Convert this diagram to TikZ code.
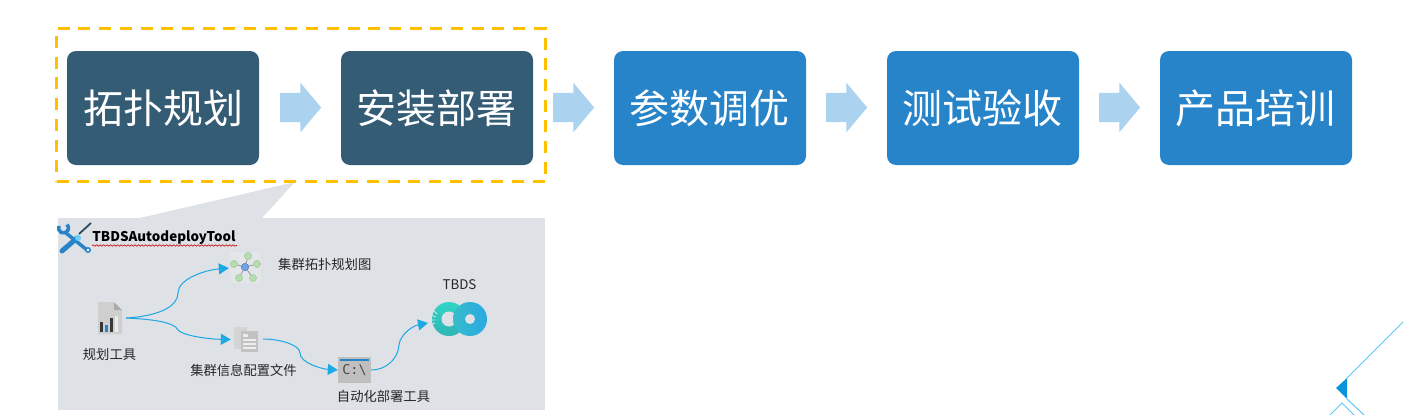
\documentclass[tikz,border=0pt]{standalone}
\usepackage{fontspec}
\setmainfont{Noto Sans CJK SC}
\newfontfamily\consolefont{DejaVu Sans Mono}
\usetikzlibrary{shapes}
\usetikzlibrary{arrows.meta}
\usetikzlibrary{decorations.pathmorphing}

\definecolor{darkstep}{HTML}{355C75}
\definecolor{bluestep}{HTML}{2884C9}
\definecolor{stepflow}{HTML}{ABD3F0}
\definecolor{dashline}{HTML}{FFC000}
\definecolor{panelgray}{HTML}{DEE1E5}
\definecolor{flowline}{HTML}{1CA8E3}
\definecolor{cornerline}{HTML}{5BC8F5}

\begin{document}
\begin{tikzpicture}[x=1pt,y=-1pt]
    \tikzstyle{stage}        = [rectangle,rounded corners=9pt,minimum width=192pt,minimum height=114pt,inner sep=0pt,text=white,font=\fontsize{40}{44}\selectfont]
    \tikzstyle{dark stage}   = [stage,fill=darkstep]
    \tikzstyle{blue stage}   = [stage,fill=bluestep]
    \tikzstyle{stage arrow}  = [single arrow,fill=stepflow,inner xsep=0pt,inner ysep=14.5pt,minimum height=41pt,single arrow head extend=10pt,single arrow head indent=0pt,single arrow tip angle=100]
    \tikzstyle{label}        = [inner sep=0pt,text=black!85,font=\fontsize{13.3}{15}\selectfont]
    \tikzstyle{icon}         = [rectangle,inner sep=0pt]
    \tikzstyle{flow}         = [draw=flowline,line width=1pt,-{Triangle[length=10pt,width=11pt]}]
    \tikzstyle{sat}          = [circle,inner sep=0pt,minimum size=7pt,fill={rgb,255:red,181;green,221;blue,176},draw={rgb,255:red,150;green,200;blue,145},line width=.5pt]
    \tikzstyle{hub}          = [circle,inner sep=0pt,minimum size=7.5pt,fill={rgb,255:red,111;green,163;blue,232},draw={rgb,255:red,80;green,120;blue,170},line width=.5pt]
    \tikzstyle{spoke}        = [draw=black!40,line width=.8pt]
    \tikzstyle{corner}       = [draw=cornerline,line width=1pt]

    \useasboundingbox (0,0) rectangle (1404,415);

    % callout panel
    \fill[panelgray] (58,218) rectangle (545,410);
    \coordinate (tipA) at (295,182);
    \fill[panelgray] (140,218) -- (tipA) -- (262,218) -- cycle;
    \node[draw=dashline,dash pattern=on 12pt off 8.7pt,line width=3pt,minimum width=489pt,minimum height=153pt,inner sep=0pt] (group) at (301,105) {};

    % top row
    \node[dark stage] (plan)    at (163,108)  {拓扑规划};
    \node[dark stage] (install) at (437,108)  {\hspace{-2pt}安装部署};
    \node[blue stage] (tune)    at (710,108)  {\hspace{-1pt}参数调优};
    \node[blue stage] (test)    at (983,108)  {\hspace{-2pt}测试验收};
    \node[blue stage] (train)   at (1256,108) {\hspace{-2pt}产品培训};

    \node[stage arrow] (arrow1) at (294.5,107.5)  {};
    \node[stage arrow] (arrow2) at (567.5,107.5)  {};
    \node[stage arrow] (arrow3) at (840.5,107.5)  {};
    \node[stage arrow] (arrow4) at (1113.5,107.5) {};

    % tool title
    \draw[line width=3.5pt,color=bluestep] (58.97,225.9) arc (155:405:5pt);
    \draw[line width=3.5pt,color=bluestep] (66,233) -- (87,250);
    \draw[line width=1.5pt,color=bluestep,fill=white] (88,250) circle (2.2pt);
    \draw[line width=1.8pt,color=darkstep!80!black] (91,223) -- (79,234);
    \draw[line width=5pt,color=bluestep,line cap=round] (62,251) -- (77,238);
    \fill[cyan!60] (78,238) circle (3pt);
    \node[inner sep=0pt,text=black,font=\bfseries\fontsize{13.4}{15}\selectfont] (title) at (164,238) {TBDSAutodeployTool};
    \draw[red!80!black,line width=.6pt,decorate,decoration={snake,amplitude=.7pt,segment length=3.5pt}] (92,245.5) -- (237,245.5);

    % planning tool icon
    \node[icon,minimum width=32pt,minimum height=32pt] (tooldoc) at (110,318) {};
    \fill[black!19] (98,302) -- (114,302) -- (122,310) -- (122,334) -- (98,334) -- cycle;
    \fill[black!33] (114,302) -- (122,310) -- (114,310) -- cycle;
    \fill[black!78] (100,322) rectangle (103,332);
    \fill[bluestep] (105,325) rectangle (108,332);
    \fill[black!78] (110,318) rectangle (113,332);
    \fill[black!8] (115,316) rectangle (118,332);
    \node[label] (toollabel) at (109.5,354) {规划工具};

    % topology icon
    \fill[white!15!panelgray] (230,252) rectangle (261,283);
    \node[hub] (hub) at (245,267) {};
    \node[sat] (sat1) at (248,256) {};
    \node[sat] (sat2) at (257,264) {};
    \node[sat] (sat3) at (253,278) {};
    \node[sat] (sat4) at (239,278) {};
    \node[sat] (sat5) at (234,264) {};
    \draw[spoke] (hub)--(sat1) (hub)--(sat2) (hub)--(sat3) (hub)--(sat4) (hub)--(sat5);
    \node[icon,minimum width=2pt,minimum height=2pt] (topoin) at (230,268) {};
    \node[label,anchor=west] (topolabel) at (278,264) {集群拓扑规划图};

    % config file icon
    \fill[black!17] (234,327) rectangle (247,349);
    \node[icon,fill=black!24,minimum width=17pt,minimum height=21pt] (config) at (249.5,341.5) {};
    \fill[black!7] (243,334) rectangle (248,336.5);
    \fill[black!7] (243,339) rectangle (256,341);
    \fill[black!7] (243,343) rectangle (256,345);
    \fill[black!7] (243,347) rectangle (256,349);
    \node[icon,minimum width=2pt,minimum height=2pt] (configin) at (232,339.5) {};
    \node[icon,minimum width=2pt,minimum height=2pt] (configout) at (262,339) {};
    \node[label] (configlabel) at (243.5,370) {集群信息配置文件};

    % console icon
    \node[icon,fill=black!25,minimum width=33pt,minimum height=26pt,text=black!70,font=\consolefont\fontsize{13.5}{15}\selectfont] (console) at (354.5,370) {\raisebox{-2pt}{C:\textbackslash}};
    \fill[bluestep] (340,359) rectangle (369,361);
    \node[label] (consolelabel) at (383.5,396) {自动化部署工具};

    % product icon
    \node[circle,inner sep=0pt,minimum size=34pt,top color={rgb,255:red,48;green,213;blue,197},bottom color={rgb,255:red,47;green,181;blue,181}] (discA) at (449,319) {};
    \fill[teal!70!cyan!80] (441,333.5) arc (-120:-40:16.5pt) -- (451,326.5) -- cycle;
    \fill[panelgray] (449,319) circle (7.5pt);
    \draw[panelgray,line width=.8pt] (437,314)--(433,310) (435.5,317)--(431,315) (435,320)--(431,320) (435,323)--(432,324);
    \node[circle,inner sep=0pt,minimum size=34pt,left color={rgb,255:red,53;green,188;blue,203},right color={rgb,255:red,43;green,169;blue,227}] (discB) at (470,319) {};
    \fill[panelgray] (470,319) circle (5pt);
    \node[label] (productlabel) at (459.5,285) {TBDS};
    \coordinate (discin) at (428,323);

    % flow connectors
    \coordinate (bendA) at (178,293);
    \coordinate (bendB) at (178,330);
    \coordinate (bendC) at (300,353);
    \coordinate (bendD) at (399,345);
    \draw[flow] (tooldoc.east) .. controls (160,316) and (178,306) .. (bendA) .. controls (178,279) and (205,270) .. (topoin);
    \draw[flow] (tooldoc.east) .. controls (150,319) and (175,322) .. (bendB) .. controls (182,335) and (205,339) .. (configin);
    \draw[flow] (configout) .. controls (280,339) and (300,345) .. (bendC) .. controls (300,363) and (322,369) .. (console.west);
    \draw[flow] (console.east) .. controls (385,370) and (398,360) .. (bendD) .. controls (400,335) and (412,326) .. (discin);

    % page corner
    \coordinate (cornerA) at (1403,322);
    \coordinate (cornerB) at (1347,378);
    \coordinate (cornerC) at (1347,399);
    \coordinate (cornerD) at (1364,415);
    \draw[corner] (cornerA)--(cornerB);
    \draw[corner] (cornerC)--(cornerD);
    \draw[corner] (1330,415)--(1342,403)--(1354,415);
    \fill[cyan!80!blue] (cornerB)--(1336,388)--(cornerC)--cycle;
\end{tikzpicture}
\end{document}
